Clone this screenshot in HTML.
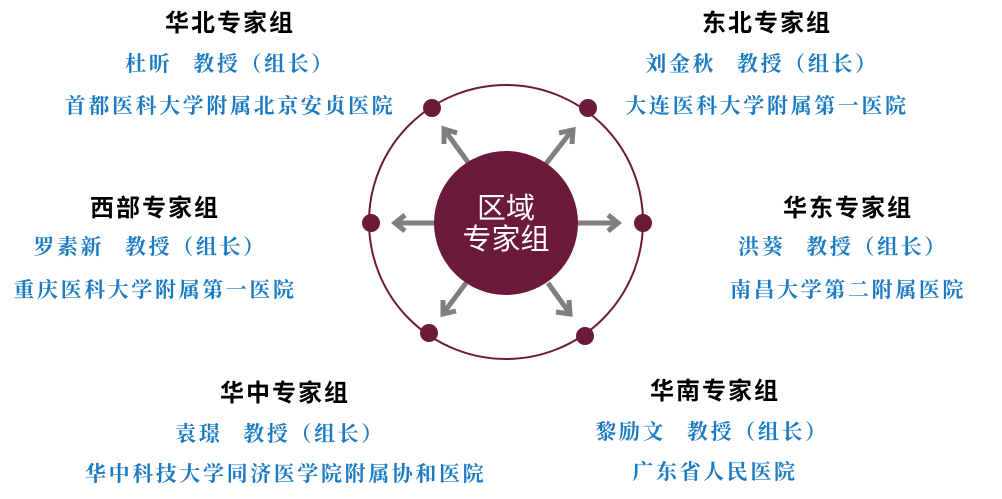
<!DOCTYPE html>
<html><head><meta charset="utf-8"><style>
body{margin:0;width:1002px;height:499px;background:#fff;position:relative;overflow:hidden}
.t{position:absolute;width:400px;text-align:center;white-space:pre;line-height:1}
.h{font-family:"Liberation Sans","Noto Sans CJK SC",sans-serif;font-weight:bold;font-size:24px;color:#000;letter-spacing:2px}
.b{font-family:"Liberation Serif","Noto Serif CJK SC",serif;font-weight:bold;font-size:21px;color:#1a7bc4;letter-spacing:2.6px}
svg{position:absolute;left:0;top:0}
</style></head><body>
<svg width="1002" height="499">
<circle cx="506" cy="222" r="137" fill="none" stroke="#6b1a3a" stroke-width="2"/>
<g stroke="#7f7f7f" stroke-width="5" fill="none" stroke-linecap="butt">
<line x1="470" y1="165" x2="446" y2="132"/><polyline points="444,144 444,129 457,133"/>
<line x1="545" y1="165" x2="570" y2="133"/><polyline points="559,133 573,130 572,144"/>
<line x1="434" y1="223" x2="397" y2="223"/><polyline points="405,215 395,223 405,231"/>
<line x1="578" y1="223" x2="616" y2="223"/><polyline points="608,215 618,223 608,231"/>
<line x1="466" y1="283" x2="445" y2="311"/><polyline points="443,300 443,314 456,311"/>
<line x1="548" y1="283" x2="568" y2="311"/><polyline points="556,312 570,314 569,300"/>
</g>
<circle cx="506" cy="223" r="72" fill="#6b1a3a"/>
<text x="506" y="218" text-anchor="middle" font-family="Liberation Sans,Noto Sans CJK SC,sans-serif" font-size="29" fill="#fff">区域</text>
<text x="506" y="249" text-anchor="middle" font-family="Liberation Sans,Noto Sans CJK SC,sans-serif" font-size="29" fill="#fff">专家组</text>
<g fill="#6b1a3a">
<circle cx="432" cy="108" r="9"/><circle cx="588" cy="108" r="9"/>
<circle cx="371" cy="223" r="9"/><circle cx="643" cy="223" r="9"/>
<circle cx="429" cy="333" r="9"/><circle cx="585" cy="336" r="9"/>
</g>
</svg>

<div class="t h" style="left:30px;top:12px">华北专家组</div>
<div class="t b" style="left:30px;top:54px">杜昕&ensp; 教授（组长）</div>
<div class="t b" style="left:30px;top:96px">首都医科大学附属北京安贞医院</div>

<div class="t h" style="left:567px;top:12px">东北专家组</div>
<div class="t b" style="left:562px;top:54px">刘金秋&ensp; 教授（组长）</div>
<div class="t b" style="left:567px;top:96px">大连医科大学附属第一医院</div>

<div class="t h" style="left:-45px;top:197px">西部专家组</div>
<div class="t b" style="left:-50px;top:237px">罗素新&ensp; 教授（组长）</div>
<div class="t b" style="left:-45px;top:280px">重庆医科大学附属第一医院</div>

<div class="t h" style="left:648px;top:197px">华东专家组</div>
<div class="t b" style="left:643px;top:237px">洪葵&ensp; 教授（组长）</div>
<div class="t b" style="left:648px;top:280px">南昌大学第二附属医院</div>

<div class="t h" style="left:85px;top:382px">华中专家组</div>
<div class="t b" style="left:80px;top:424px">袁璟&ensp; 教授（组长）</div>
<div class="t b" style="left:85px;top:464px">华中科技大学同济医学院附属协和医院</div>

<div class="t h" style="left:515px;top:380px">华南专家组</div>
<div class="t b" style="left:512px;top:422px">黎励文&ensp; 教授（组长）</div>
<div class="t b" style="left:515px;top:462px">广东省人民医院</div>
</body></html>
